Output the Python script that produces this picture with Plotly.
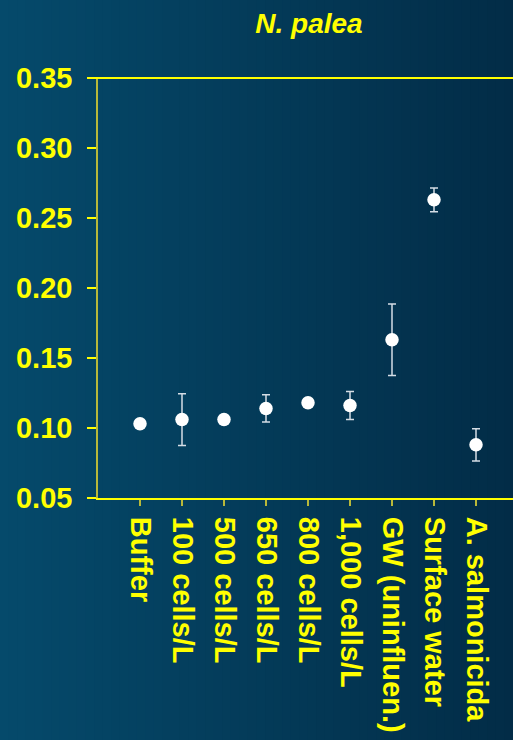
import plotly.graph_objects as go

categories = ["Buffer", "100 cells/L", "500 cells/L", "650 cells/L", "800 cells/L",
              "1,000 cells/L", "GW (uninfluen.)", "Surface water", "A. salmonicida"]
values = [0.103, 0.106, 0.106, 0.114, 0.118, 0.116, 0.163, 0.263, 0.088]
errors = [None, 0.0185, None, 0.0098, None, 0.010, 0.0255, 0.0085, 0.0115]
y_ticks = [0.05, 0.10, 0.15, 0.20, 0.25, 0.30, 0.35]
y_tick_text = ["0.05", "0.10", "0.15", "0.20", "0.25", "0.30", "0.35"]
title_text = "<b><i>N. palea</i></b>"

W, H = 513, 740
L, R, T, B = 98, 0, 78, 242
plot_w = W - L - R

YEL = "#ffff00"
OLIVE = "#b8b83a"
FONT = "Liberation Sans, Arial, sans-serif"

x_idx = list(range(len(categories)))
err_arr = [e if e is not None else 0 for e in errors]

fig = go.Figure()
fig.add_trace(go.Scatter(
    x=x_idx, y=values, mode="markers",
    marker=dict(color="white", size=13.5, line=dict(width=0)),
    error_y=dict(type="data", array=err_arr, visible=True,
                 color="#d5dde5", thickness=1.5, width=4),
    showlegend=False, hoverinfo="skip"))

# background gradient strips (horizontal)
n = 60
c0 = (5, 74, 107)
c1 = (2, 44, 71)
shapes = []
x_left = -L / plot_w
x_right = 1 + R / plot_w
for i in range(n):
    t = i / (n - 1)
    c = tuple(round(c0[k] + (c1[k] - c0[k]) * t) for k in range(3))
    xa = x_left + (x_right - x_left) * i / n
    xb = x_left + (x_right - x_left) * (i + 1) / n + 0.002
    shapes.append(dict(type="rect", xref="paper", yref="paper",
                       x0=xa, x1=xb, y0=-B / (H - T - B), y1=1 + T / (H - T - B),
                       fillcolor="rgb(%d,%d,%d)" % c, line=dict(width=0), layer="below"))
# top border line
shapes.append(dict(type="line", xref="paper", yref="paper",
                   x0=-9 / plot_w, x1=1, y0=1, y1=1,
                   line=dict(color=YEL, width=2)))

fig.update_layout(
    width=W, height=H,
    margin=dict(l=L, r=R, t=T, b=B, pad=0),
    paper_bgcolor="#033c5a", plot_bgcolor="rgba(0,0,0,0)",
    shapes=shapes,
    title=dict(text=title_text, x=309 / W, xanchor="center", xref="container",
               y=1 - 23 / H, yanchor="middle", yref="container",
               font=dict(family=FONT, size=28, color=YEL)),
    xaxis=dict(range=[-1, -1 + plot_w / 42.0], tickmode="array", tickvals=x_idx,
               ticktext=["<b>%s</b>" % c for c in categories], tickangle=90,
               showgrid=False, zeroline=False,
               showline=True, linecolor=YEL, linewidth=2,
               ticks="outside", ticklen=6, tickwidth=1.5, tickcolor=OLIVE,
               ticklabelstandoff=5,
               tickfont=dict(family=FONT, size=29, color=YEL)),
    yaxis=dict(range=[0.05, 0.35], tickmode="array", tickvals=y_ticks,
               ticktext=["<b>%s</b>" % t for t in y_tick_text],
               showgrid=False, zeroline=False,
               showline=True, linecolor=OLIVE, linewidth=1.5,
               ticks="outside", ticklen=9, tickwidth=1.5, tickcolor=YEL,
               ticklabelstandoff=9,
               tickfont=dict(family=FONT, size=29, color=YEL)),
)

fig.write_html("out.html", config={"displayModeBar": False},
               post_script="document.body.style.margin='0';document.body.style.padding='0';")
